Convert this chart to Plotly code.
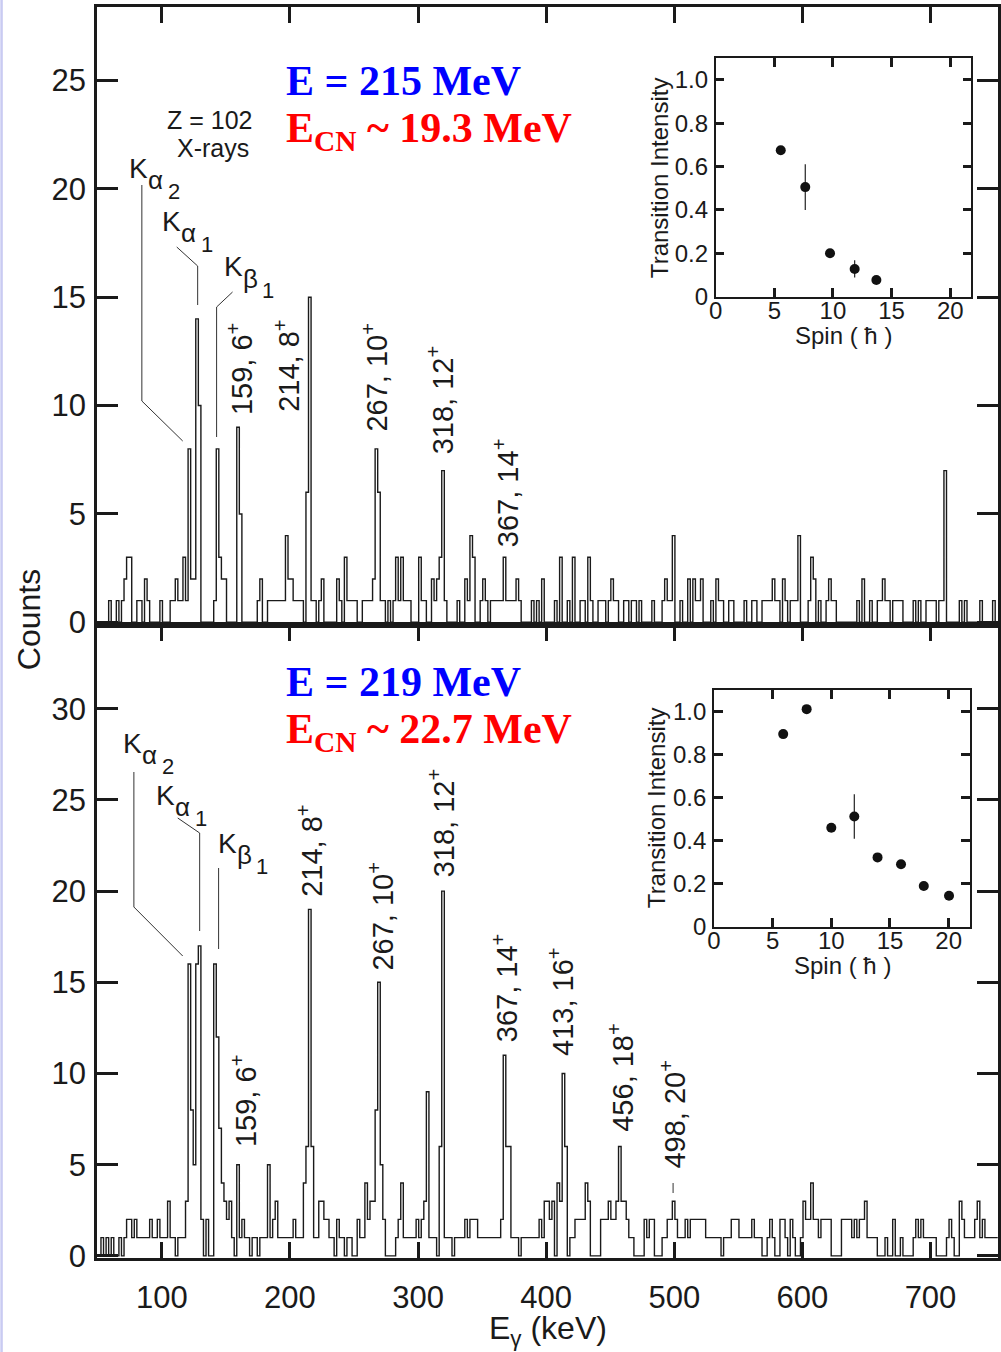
import numpy as np
import plotly.graph_objects as go

# ---- gamma-ray spectra (counts per 2 keV bin, first bin starts at 50.5 keV) ----
BIN_START = 50.5
BIN_WIDTH = 2.0

counts_215 = [
    0,0,0,0,1,0,0,1,0,1,   2,3,3,0,0,1,1,0,2,1,   0,0,0,0,1,0,0,0,1,1,
    2,1,1,3,1,8,2,2,14,10, 0,0,0,0,0,1,8,3,2,2,   0,0,0,0,9,5,0,0,0,0,
    0,0,1,2,0,0,1,1,1,1,   1,1,1,4,2,2,1,1,1,1,   0,6,15,1,1,0,1,2,0,0,
    0,0,0,2,1,0,3,1,1,1,   1,0,0,1,1,1,1,2,8,6,   1,1,0,1,0,1,3,1,3,1,
    1,1,0,0,0,3,1,1,0,0,   2,1,2,3,7,1,0,0,0,0,   1,0,0,2,1,4,3,0,0,1,
    2,1,0,1,1,1,1,1,3,1,   1,1,1,2,1,0,0,0,0,1,   0,1,0,2,0,0,0,0,1,0,
    3,0,0,1,0,3,0,0,1,1,   0,3,1,0,0,1,1,1,0,1,   2,1,1,0,0,1,1,0,1,1,
    0,1,0,0,0,0,1,0,0,0,   1,2,1,1,4,0,0,1,0,0,   2,0,2,1,1,2,0,0,0,1,
    0,2,1,1,0,0,1,1,0,0,   0,0,1,0,0,1,1,0,0,1,   1,1,1,2,1,1,0,2,1,0,
    1,1,1,4,0,0,0,1,3,2,   0,1,0,0,1,2,1,1,0,0,   0,0,0,0,0,0,1,0,2,0,
    0,1,0,0,1,1,2,1,1,0,   1,1,1,1,0,0,0,0,1,0,   1,0,0,1,1,1,1,0,1,1,
    7,0,0,0,0,0,1,0,1,0,   0,0,0,0,1,0,0,0,0,1,   0,
]

counts_219 = [
    0,1,0,1,0,1,0,0,1,0,   1,2,2,1,2,1,1,1,1,1,   2,1,1,2,1,1,1,3,1,1,
    0,1,1,1,3,16,8,5,16,17, 2,0,2,0,0,16,12,7,4,3, 2,3,1,0,5,1,2,1,1,0,
    1,1,0,1,1,1,5,1,2,3,   1,1,1,1,1,1,2,1,1,1,   4,6,19,6,1,1,3,3,2,2,
    1,1,0,2,1,1,0,1,1,0,   0,2,1,1,4,2,3,3,8,15,  5,2,0,0,0,0,1,2,4,1,
    1,1,1,1,2,1,2,3,9,1,   1,1,0,6,20,1,1,1,0,1,  1,1,1,2,1,2,2,2,1,1,
    1,1,1,1,1,1,1,2,11,6,  6,1,1,1,0,1,1,1,1,1,   1,1,2,1,3,3,2,3,0,4,
    3,10,6,0,1,1,2,2,2,2,  4,3,0,0,0,0,2,2,2,3,   2,2,3,6,3,3,2,1,1,0,
    0,0,0,2,1,2,2,0,0,0,   1,1,2,2,3,2,1,1,1,2,   1,2,2,2,2,2,2,1,1,1,
    1,1,1,0,1,1,1,2,2,2,   1,1,1,1,1,2,1,1,1,0,   0,1,2,1,0,0,2,2,1,0,
    2,1,0,0,1,3,2,2,4,2,   2,1,2,2,2,2,0,0,0,0,   2,2,2,2,1,2,1,2,2,3,
    1,1,1,1,0,0,0,1,0,0,   2,0,0,1,0,0,0,0,1,2,   1,2,1,1,1,1,1,0,0,0,
    0,1,2,1,0,0,3,2,1,1,   1,1,2,3,1,2,1,1,1,1,   1,
]

# ---- inset data: relative transition intensity vs spin ----
spin_215 = [5.55, 7.64, 9.75, 11.85, 13.7]
inten_215 = [0.675, 0.505, 0.20, 0.128, 0.077]
err_215 = [0, 0.105, 0, 0.04, 0]

spin_219 = [5.9, 7.9, 10.0, 11.96, 13.94, 15.94, 17.88, 20.03]
inten_219 = [0.895, 1.011, 0.46, 0.512, 0.322, 0.29, 0.189, 0.144]
err_219 = [0, 0, 0, 0.103, 0, 0, 0, 0]

# ---- tick labels ----
energy_ticks = [100, 200, 300, 400, 500, 600, 700]
counts_ticks_215 = [0, 5, 10, 15, 20, 25]
counts_ticks_219 = [0, 5, 10, 15, 20, 25, 30]
spin_ticks = [0, 5, 10, 15, 20]
inten_ticks = [0, 0.2, 0.4, 0.6, 0.8, 1.0]
inten_ticktext = ["0", "0.2", "0.4", "0.6", "0.8", "1.0"]

SANS = "Liberation Sans, Arial, Helvetica, sans-serif"
SERIF = "Liberation Serif, Times New Roman, serif"
INK = "#1a1a1a"

# page geometry of the plotting area (pixels)
L, T, W, H = 97, 7, 904, 1251
FIG_W, FIG_H = 1001, 1352


def px(x):
    return (x - L) / W


def py(y):
    return (T + H - y) / H


def step_xy(counts):
    edges = BIN_START + BIN_WIDTH * np.arange(len(counts) + 1)
    return edges, list(counts) + [counts[-1]]


fig = go.Figure()

for counts, xa, ya in [(counts_215, "x", "y"), (counts_219, "x2", "y2")]:
    ex, ey = step_xy(counts)
    fig.add_trace(go.Scatter(
        x=ex, y=ey, mode="lines", xaxis=xa, yaxis=ya,
        line=dict(color=INK, width=1.4, shape="hv"), hoverinfo="skip"))

for sx, sy, se, xa, ya in [(spin_215, inten_215, err_215, "x3", "y3"),
                           (spin_219, inten_219, err_219, "x4", "y4")]:
    fig.add_trace(go.Scatter(
        x=sx, y=sy, mode="markers", xaxis=xa, yaxis=ya,
        marker=dict(color="#111111", size=10),
        error_y=dict(type="data", array=se, visible=True, thickness=1.2,
                     width=0, color="#222222"),
        hoverinfo="skip"))

axis_base = dict(showline=True, linecolor=INK, ticks="inside", tickcolor=INK,
                 showgrid=False, zeroline=False)
E_RANGE = [49.4, 752.7]
SPLIT = py(625)

inset_x = dict(axis_base, range=[0, 21.8], tickvals=spin_ticks, mirror="ticks",
               ticklen=9, tickwidth=2.5, linewidth=1.6,
               tickfont=dict(size=24), ticklabelstandoff=-8)
inset_y = dict(axis_base, range=[0, 1.1], tickvals=inten_ticks,
               ticktext=inten_ticktext, mirror="ticks", ticklen=9,
               tickwidth=2.5, linewidth=1.6, tickfont=dict(size=24),
               ticklabelstandoff=1)

fig.update_layout(
    width=FIG_W, height=FIG_H,
    margin=dict(l=L, r=FIG_W - L - W, t=T, b=FIG_H - T - H),
    plot_bgcolor="white", paper_bgcolor="white", showlegend=False,
    font=dict(family=SANS, color=INK),
    xaxis=dict(axis_base, domain=[0, 1], anchor="y", range=E_RANGE,
               tickvals=energy_ticks, side="top", mirror=True,
               showticklabels=False, ticklen=16, tickwidth=2.5, linewidth=2.5),
    yaxis=dict(axis_base, domain=[SPLIT, 1], anchor="x", range=[-0.125, 28.39],
               tickvals=counts_ticks_215, mirror="ticks", ticklen=21,
               tickwidth=2.5, linewidth=2.5, tickfont=dict(size=31),
               ticklabelstandoff=2),
    xaxis2=dict(axis_base, domain=[0, 1], anchor="y2", range=E_RANGE,
                tickvals=energy_ticks, side="bottom", mirror="ticks",
                ticklen=16, tickwidth=2.5, linewidth=2.5,
                tickfont=dict(size=31), ticklabelstandoff=10),
    yaxis2=dict(axis_base, domain=[0, SPLIT], anchor="x2", range=[-0.115, 34.59],
                tickvals=counts_ticks_219, mirror="ticks", ticklen=21,
                tickwidth=2.5, linewidth=2.5, tickfont=dict(size=31),
                ticklabelstandoff=2),
    xaxis3=dict(inset_x, domain=[px(717.7), px(974.3)], anchor="y3"),
    yaxis3=dict(inset_y, domain=[py(296.7), py(58)], anchor="x3"),
    xaxis4=dict(inset_x, domain=[px(716), px(972.7)], anchor="y4"),
    yaxis4=dict(inset_y, domain=[py(926.7), py(690)], anchor="x4"),
)


def note(text, x, y, size, color=INK, family=SANS, xanchor="center",
         yanchor="middle", angle=0):
    return dict(text=text, x=px(x), y=py(y), xref="paper", yref="paper",
                showarrow=False, font=dict(size=size, color=color, family=family),
                xanchor=xanchor, yanchor=yanchor, textangle=angle, borderpad=0)


notes = [
    # axis titles
    note("Counts", 29, 620, 32, angle=-90),
    note("E<sub>γ</sub> (keV)", 550, 1330, 32),
    # beam / excitation energy labels
    note("<b>E = 215 MeV</b>", 286, 81, 42, color="#0000ff", family=SERIF, xanchor="left"),
    note("<b>E<sub>CN</sub> ~ 19.3 MeV</b>", 286, 131, 42, color="#ff0000", family=SERIF, xanchor="left"),
    note("<b>E = 219 MeV</b>", 286, 682, 42, color="#0000ff", family=SERIF, xanchor="left"),
    note("<b>E<sub>CN</sub> ~ 22.7 MeV</b>", 286, 732, 42, color="#ff0000", family=SERIF, xanchor="left"),
    # X-ray labels
    note("Z = 102", 210, 120, 25),
    note("X-rays", 213, 148, 25),
    # inset axis titles
    note("Transition Intensity", 661, 178, 24, angle=-90),
    note("Spin ( ħ )", 846, 335, 24),
    note("Transition Intensity", 658, 808, 24, angle=-90),
    note("Spin ( ħ )", 845, 965, 24),
]

# K X-ray labels written as K, Greek letter and line index at stepped heights
xray_labels = [
    # (greek, index, K left x, K centre y)
    ("α", "2", 128, 168), ("α", "1", 161, 221), ("β", "1", 223, 267),
    ("α", "2", 122, 743), ("α", "1", 155, 795), ("β", "1", 217, 843),
]
for greek, idx, kx, ky in xray_labels:
    notes.append(note("K", kx, ky, 28, xanchor="left"))
    notes.append(note(greek, kx + 19, ky + 12, 26, xanchor="left"))
    notes.append(note(idx, kx + 39, ky + 23, 22, xanchor="left"))

# yrast-band transition labels: (text, x centre, bottom y)
peak_labels_215 = [("159, 6<sup>+</sup>", 240, 416), ("214, 8<sup>+</sup>", 287, 413),
                   ("267, 10<sup>+</sup>", 375, 433), ("318, 12<sup>+</sup>", 442, 455),
                   ("367, 14<sup>+</sup>", 507, 548)]
peak_labels_219 = [("159, 6<sup>+</sup>", 244, 1148), ("214, 8<sup>+</sup>", 310, 898),
                   ("267, 10<sup>+</sup>", 381, 972), ("318, 12<sup>+</sup>", 442, 878),
                   ("367, 14<sup>+</sup>", 506, 1043), ("413, 16<sup>+</sup>", 562, 1057),
                   ("456, 18<sup>+</sup>", 622, 1133), ("498, 20<sup>+</sup>", 674, 1170)]
for text, x, yb in peak_labels_215 + peak_labels_219:
    notes.append(note(text, x, yb, 29, angle=-90, yanchor="bottom"))

fig.update_layout(annotations=notes)

# leader lines from the X-ray labels to their peaks (pixel polylines)
leaders = [
    [(142, 185), (142, 401), (183, 441)],
    [(177, 247), (198, 266), (198, 305)],
    [(233, 292), (217, 307), (217, 437)],
    [(134, 772), (134, 907), (183, 956)],
    [(178, 818), (200, 833), (200, 931)],
    [(219, 868), (219, 949)],
    [(675, 1183), (675, 1193)],
]
shapes = []
for pts in leaders:
    for (x0, y0), (x1, y1) in zip(pts[:-1], pts[1:]):
        shapes.append(dict(type="line", xref="paper", yref="paper",
                           x0=px(x0), y0=py(y0), x1=px(x1), y1=py(y1),
                           line=dict(color="#333333", width=1)))
# thin tinted strip along the left page edge
shapes.append(dict(type="rect", xref="paper", yref="paper", x0=px(0), x1=px(2.5),
                   y0=py(FIG_H), y1=py(0), line=dict(width=0), fillcolor="#c9cbf2",
                   layer="above"))
fig.update_layout(shapes=shapes)

fig.write_html("out.html")
